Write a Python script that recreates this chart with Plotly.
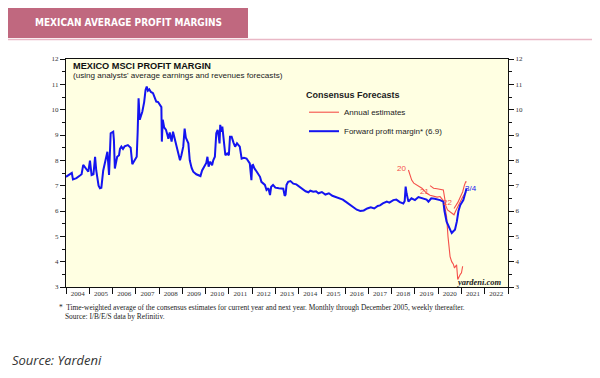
import plotly.graph_objects as go

# ---------------- data ----------------
fwd_x = [2004.0, 2004.15, 2004.25, 2004.3, 2004.45, 2004.6, 2004.67, 2004.74, 2004.85, 2004.96,
         2005.03, 2005.1, 2005.18, 2005.25, 2005.3, 2005.4, 2005.46, 2005.52, 2005.6, 2005.68,
         2005.78, 2005.85, 2005.92, 2006.03, 2006.06, 2006.1, 2006.2, 2006.28, 2006.32, 2006.38,
         2006.45, 2006.52, 2006.6, 2006.66, 2006.78, 2006.85, 2006.95, 2007.04, 2007.08, 2007.12,
         2007.17, 2007.28, 2007.36, 2007.42, 2007.47, 2007.52, 2007.58, 2007.65, 2007.74, 2007.8,
         2007.88, 2007.96, 2008.04, 2008.1, 2008.12, 2008.16, 2008.22, 2008.3, 2008.36, 2008.4,
         2008.46, 2008.54, 2008.6, 2008.66, 2008.74, 2008.84, 2008.9, 2008.96, 2009.04, 2009.1,
         2009.15, 2009.26, 2009.32, 2009.4, 2009.47, 2009.6, 2009.7, 2009.78, 2009.85, 2009.95,
         2010.03, 2010.08, 2010.13, 2010.2, 2010.28, 2010.33, 2010.4, 2010.46, 2010.52, 2010.57,
         2010.6, 2010.63, 2010.67, 2010.72, 2010.78, 2010.85, 2010.93, 2011.0, 2011.05, 2011.12,
         2011.2, 2011.27, 2011.35, 2011.47, 2011.55, 2011.65, 2011.76, 2011.9, 2011.97, 2012.0,
         2012.04, 2012.1, 2012.2, 2012.34, 2012.4, 2012.5, 2012.55, 2012.62, 2012.7, 2012.77,
         2012.82, 2012.9, 2013.0, 2013.15, 2013.3, 2013.34, 2013.4, 2013.44, 2013.48, 2013.55,
         2013.65, 2013.77, 2013.9, 2014.05, 2014.2, 2014.3, 2014.42, 2014.5, 2014.63, 2014.75,
         2014.85, 2015.0, 2015.15, 2015.3, 2015.45, 2015.6, 2015.75, 2015.9, 2016.05, 2016.2,
         2016.35, 2016.5, 2016.65, 2016.8, 2016.95, 2017.1, 2017.25, 2017.4, 2017.5, 2017.62,
         2017.79, 2017.9, 2018.07, 2018.2, 2018.35, 2018.5, 2018.56, 2018.6, 2018.64, 2018.72,
         2018.85, 2019.0, 2019.15, 2019.36, 2019.5, 2019.58, 2019.7, 2019.85, 2020.0, 2020.08,
         2020.22, 2020.27, 2020.36, 2020.45, 2020.51, 2020.58, 2020.65, 2020.72, 2020.8, 2020.87,
         2020.95, 2021.08, 2021.18, 2021.22]
fwd_y = [7.35, 7.45, 7.5, 7.25, 7.3, 7.4, 7.45, 7.82, 7.7, 7.55,
         7.99, 7.42, 7.45, 8.14, 7.6, 7.0, 6.9, 6.92, 7.6, 8.0,
         8.34, 7.42, 9.07, 9.13, 8.8, 7.68, 8.14, 8.2, 8.45, 8.54,
         8.45, 8.55, 8.58, 8.6, 8.5, 7.85, 8.0, 8.14, 9.1, 10.45,
         9.6, 9.92, 10.3, 10.78, 10.91, 10.75, 10.8, 10.7, 10.65, 10.5,
         10.32, 10.3, 10.2, 10.1, 8.74, 9.6, 9.3, 9.2, 9.0, 8.85,
         9.1, 8.74, 9.13, 8.9, 8.54, 8.2, 8.0, 8.2, 8.54, 9.25,
         8.9, 8.67, 8.0, 7.7, 7.55, 7.45, 7.42, 7.38, 7.6, 7.8,
         7.9, 8.14, 7.75, 7.95, 7.8, 8.0, 8.14, 9.07, 9.2, 8.9,
         8.67, 9.4, 9.13, 9.33, 8.87, 8.2, 8.27, 8.2, 8.93, 8.93,
         8.7, 8.54, 8.67, 8.54, 8.07, 8.1, 8.07, 7.88, 7.22, 7.8,
         7.82, 7.68, 7.55, 7.35, 7.15, 7.05, 7.03, 6.83, 6.9, 6.63,
         6.96, 7.03, 6.92, 6.9, 6.9, 6.88, 6.6, 6.65, 7.03, 7.15,
         7.18, 7.08, 7.05, 6.95, 6.83, 6.78, 6.74, 6.8, 6.76, 6.78,
         6.7, 6.75, 6.65, 6.7, 6.6, 6.55, 6.5, 6.45, 6.35, 6.25,
         6.15, 6.05, 6.0, 6.02, 6.1, 6.15, 6.1, 6.2, 6.22, 6.3,
         6.37, 6.33, 6.43, 6.45, 6.35, 6.3, 6.4, 6.96, 6.7, 6.37,
         6.5, 6.43, 6.55, 6.5, 6.45, 6.37, 6.5, 6.48, 6.45, 6.43,
         6.37, 6.0, 5.58, 5.4, 5.32, 5.13, 5.2, 5.26, 5.58, 6.0,
         6.24, 6.43, 6.76, 6.9]

est20_x = [2018.72, 2018.8, 2018.86, 2018.95, 2019.07, 2019.2, 2019.3, 2019.4, 2019.5, 2019.65,
           2019.8, 2019.95, 2020.08, 2020.2, 2020.28, 2020.36, 2020.42, 2020.51, 2020.58, 2020.65,
           2020.7, 2020.79, 2020.84, 2020.9, 2020.95, 2021.0, 2021.05]
est20_y = [7.62, 7.35, 7.22, 7.1, 7.03, 6.95, 6.9, 6.8, 6.7, 6.62,
           6.57, 6.55, 6.57, 6.43, 6.2, 5.78, 5.0, 4.2, 4.0, 3.9,
           3.75, 3.88, 3.3, 3.43, 3.5, 3.56, 3.82]

est21_x = [2019.65, 2019.7, 2019.8, 2019.95, 2020.1, 2020.22, 2020.28, 2020.33, 2020.4, 2020.5,
           2020.6, 2020.68, 2020.75, 2020.85, 2020.95, 2021.05, 2021.15, 2021.2]
est21_y = [7.0, 6.96, 6.9, 6.88, 6.85, 6.83, 6.5, 6.2, 6.04, 5.97,
           5.9, 5.85, 6.0, 6.2, 6.4, 6.55, 6.7, 6.75]

est22_x = [2020.68, 2020.75, 2020.85, 2020.95, 2021.05, 2021.12, 2021.18, 2021.22]
est22_y = [6.1, 6.2, 6.35, 6.55, 6.75, 7.0, 7.15, 7.15]

years = list(range(2004, 2023))
year_labels = [str(y) for y in years]
y_ticks = list(range(3, 13))

# ---------------- layout helpers (screen pixels) ----------------
OFF = 8                      # page body margin
W, H = 584, 362              # figure size so it fits the 600x378 window
SL, SR, ST, SB = 66, 508, 59, 287   # plot area, screen pixels
L, R, T, B = SL - OFF, SR - OFF, ST - OFF, SB - OFF


def px(x):
    return (x - SL) / (SR - SL)


def py(y):
    return (SB - y) / (SB - ST)


RED = "#F5504A"
BLUE = "#1414F0"

fig = go.Figure()
fig.add_trace(go.Scatter(x=est20_x, y=est20_y, mode="lines", line=dict(color=RED, width=1.1),
                         name="Annual estimates", legendgroup="ann", showlegend=True))
fig.add_trace(go.Scatter(x=est21_x, y=est21_y, mode="lines", line=dict(color=RED, width=1.1),
                         name="Annual estimates", legendgroup="ann", showlegend=False))
fig.add_trace(go.Scatter(x=est22_x, y=est22_y, mode="lines", line=dict(color=RED, width=1.1),
                         name="Annual estimates", legendgroup="ann", showlegend=False))
fig.add_trace(go.Scatter(x=fwd_x, y=fwd_y, mode="lines", line=dict(color=BLUE, width=2),
                         name="Forward profit margin* (6.9)", legendgroup="ann"))
# right-hand axis carrier (same data, invisible)
fig.add_trace(go.Scatter(x=fwd_x, y=fwd_y, yaxis="y2", mode="lines",
                         line=dict(color="rgba(0,0,0,0)", width=0), showlegend=False, hoverinfo="skip"))

tickfont = dict(family="Liberation Serif", size=7, color="#333")

fig.update_layout(
    width=W, height=H,
    margin=dict(l=L, r=W - R, t=T, b=H - B),
    paper_bgcolor="white",
    plot_bgcolor="#FFFFE2",
    showlegend=True,
    legend=dict(
        x=px(304), y=py(86), xanchor="left", yanchor="top",
        bgcolor="rgba(0,0,0,0)",
        title=dict(text="<b>Consensus Forecasts</b>",
                   font=dict(family="Liberation Sans", size=9, color="#222")),
        font=dict(family="Liberation Sans", size=8, color="#222"),
        tracegroupgap=0, itemwidth=30,
    ),
    xaxis=dict(
        range=[2004, 2023],
        tickmode="array",
        tickvals=[y + 0.5 for y in years],
        ticktext=year_labels,
        ticks="outside", ticklen=0,
        tickfont=tickfont,
        showgrid=False, zeroline=False,
        showline=True, linecolor="#111", linewidth=1, mirror=True,
        minor=dict(tick0=2004, dtick=1, ticks="outside", ticklen=6, tickcolor="#111", tickwidth=1, showgrid=False),
    ),
    yaxis=dict(
        range=[3, 12],
        tickmode="array", tickvals=y_ticks,
        ticks="outside", ticklen=5, tickcolor="#111",
        tickfont=tickfont,
        showgrid=False, zeroline=False,
        showline=True, linecolor="#111", linewidth=1, mirror=True,
        minor=dict(dtick=0.5, tick0=3, ticks="outside", ticklen=3, tickcolor="#111", showgrid=False),
    ),
    yaxis2=dict(
        range=[3, 12], overlaying="y", side="right",
        tickmode="array", tickvals=y_ticks,
        ticks="outside", ticklen=5, tickcolor="#111",
        tickfont=tickfont,
        showgrid=False, zeroline=False,
        showline=True, linecolor="#111", linewidth=1,
        minor=dict(dtick=0.5, tick0=3, ticks="outside", ticklen=3, tickcolor="#111", showgrid=False),
    ),
)

# header banner
fig.add_shape(type="rect", xref="paper", yref="paper",
              x0=px(7), x1=px(248), y0=py(38), y1=py(7),
              fillcolor="#C0687F", line=dict(width=0), layer="above")
fig.add_shape(type="line", xref="paper", yref="paper",
              x0=px(7), x1=px(600), y0=py(39.5), y1=py(39.5),
              line=dict(color="#E9B8C6", width=1.5))

ann = []
ann.append(dict(text="<b>MEXICAN AVERAGE PROFIT MARGINS</b>", x=px(128), y=py(23),
                font=dict(family="DejaVu Sans Condensed, Liberation Sans Narrow, Liberation Sans", size=10, color="white")))
ann.append(dict(text="<b>MEXICO MSCI PROFIT MARGIN</b>", x=px(71), y=py(65.5), xanchor="left",
                font=dict(family="Liberation Sans", size=9.2, color="#111")))
ann.append(dict(text="(using analysts' average earnings and revenues forecasts)", x=px(71), y=py(75.5), xanchor="left",
                font=dict(family="Liberation Sans", size=8.1, color="#222")))
ann.append(dict(text="<b><i>yardeni.com</i></b>", x=px(504), y=py(282), xanchor="right",
                font=dict(family="Liberation Serif", size=8.5, color="#222")))
ann.append(dict(text="*  Time-weighted average of the consensus estimates for current year and next year. Monthly through December 2005, weekly thereafter.",
                x=px(57), y=py(307.5), xanchor="left",
                font=dict(family="Liberation Serif", size=7.4, color="#222")))
ann.append(dict(text="Source: I/B/E/S data by Refinitiv.",
                x=px(63), y=py(316.5), xanchor="left",
                font=dict(family="Liberation Serif", size=7.4, color="#222")))
ann.append(dict(text="<i>Source: Yardeni</i>", x=px(10), y=py(360), xanchor="left",
                font=dict(family="Open Sans", size=13, color="#333")))
for a in ann:
    a.update(xref="paper", yref="paper", showarrow=False, yanchor=a.get("yanchor", "middle"),
             xanchor=a.get("xanchor", "center"))
    fig.add_annotation(**a)

# series labels
for txt, x, y, c in [("20", 2018.43, 7.68, RED), ("21", 2019.39, 6.78, RED),
                     ("22", 2020.42, 6.32, RED), ("3/4", 2021.42, 6.88, BLUE)]:
    fig.add_annotation(text=txt, x=x, y=y, xref="x", yref="y", showarrow=False,
                       font=dict(family="Liberation Sans", size=8, color=c))

fig.write_html("out.html")
